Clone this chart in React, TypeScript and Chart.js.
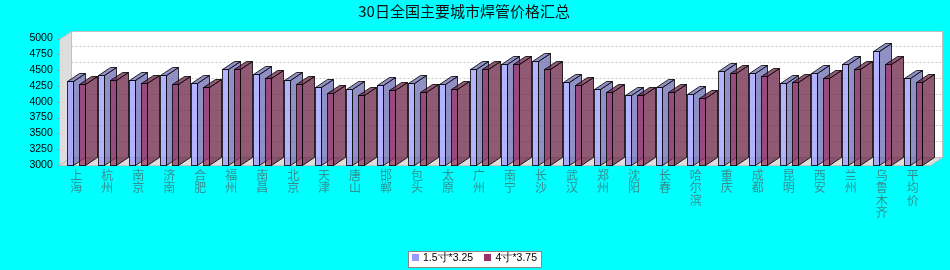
import React, { useEffect, useRef } from 'react';
import { Chart, registerables } from 'chart.js';

Chart.register(...registerables);

const TITLE = '30日全国主要城市焊管价格汇总';
const categories = ['上海', '杭州', '南京', '济南', '合肥', '福州', '南昌', '北京', '天津', '唐山', '邯郸', '包头', '太原', '广州', '南宁', '长沙', '武汉', '郑州', '沈阳', '长春', '哈尔滨', '重庆', '成都', '昆明', '西安', '兰州', '乌鲁木齐', '平均价'];
const seriesNames = ['1.5寸*3.25', '4寸*3.75'];
const series15 = [4330, 4420, 4350, 4420, 4290, 4510, 4440, 4350, 4240, 4200, 4270, 4300, 4280, 4510, 4600, 4640, 4320, 4200, 4100, 4240, 4130, 4490, 4450, 4290, 4450, 4590, 4810, 4380];
const series4 = [4280, 4350, 4300, 4280, 4240, 4510, 4380, 4280, 4140, 4100, 4190, 4150, 4200, 4510, 4600, 4510, 4270, 4160, 4100, 4160, 4060, 4450, 4400, 4320, 4380, 4510, 4600, 4320];
const yMin = 3000;
const yMax = 5000;
const yStep = 250;

const DX = 12;
const DY = 8;
const ALPHA = 0.75;
const seriesRGB = [[153, 153, 255], [153, 51, 102]];
const LABEL_FONT = '"Liberation Sans", Arial, sans-serif';
const CJK_FONT = '"Noto Sans CJK SC", sans-serif';

const rgba = (c: number[], a: number) => `rgba(${c[0]},${c[1]},${c[2]},${a})`;
const darker = (c: number[]) => c.map((v) => Math.floor(v * 0.7));

const bar3d = {
  id: 'bar3d',
  beforeDraw(chart: any) {
    const { ctx, chartArea: a, scales } = chart;
    ctx.save();
    ctx.fillStyle = '#00ffff';
    ctx.fillRect(0, 0, chart.width, chart.height);
    const L = Math.floor(a.left) - 0.5;
    const R = Math.round(a.right) + 2.5;
    const T = Math.round(a.top) + 0.5;
    const B = Math.round(a.bottom) + 0.5;
    // back wall
    ctx.fillStyle = '#ffffff';
    ctx.fillRect(L + DX, T - DY, R - L, B - T);
    // gridlines on back wall
    ctx.strokeStyle = '#c8c8c8';
    ctx.lineWidth = 1;
    ctx.setLineDash([2, 2]);
    for (let v = yMin + yStep; v < yMax; v += yStep) {
      const y = Math.round(scales.y.getPixelForValue(v)) - DY + 0.5;
      ctx.beginPath();
      ctx.moveTo(L + DX, y);
      ctx.lineTo(R + DX, y);
      ctx.stroke();
    }
    ctx.setLineDash([]);
    ctx.strokeStyle = '#c0c0c0';
    ctx.strokeRect(L + DX, T - DY, R - L, B - T);
    // left wall
    ctx.fillStyle = '#dddddd';
    ctx.beginPath();
    ctx.moveTo(L, T);
    ctx.lineTo(L + DX, T - DY);
    ctx.lineTo(L + DX, B - DY);
    ctx.lineTo(L, B);
    ctx.closePath();
    ctx.fill();
    ctx.stroke();
    // floor
    ctx.beginPath();
    ctx.moveTo(L, B);
    ctx.lineTo(L + DX, B - DY);
    ctx.lineTo(R + DX, B - DY);
    ctx.lineTo(R, B);
    ctx.closePath();
    ctx.fill();
    ctx.stroke();
    // tick marks
    ctx.strokeStyle = '#999999';
    for (let v = yMin; v <= yMax; v += yStep) {
      const y = Math.round(scales.y.getPixelForValue(v)) + 0.5;
      ctx.beginPath();
      ctx.moveTo(L - 2, y);
      ctx.lineTo(L, y);
      ctx.stroke();
    }
    ctx.restore();
  },
  beforeDatasetsDraw(chart: any) {
    const { ctx, chartArea: a } = chart;
    const metas = chart.data.datasets.map((_: any, i: number) => chart.getDatasetMeta(i));
    ctx.save();
    ctx.lineWidth = 1;
    ctx.strokeStyle = 'rgba(0,0,0,0.8)';
    for (let i = 0; i < categories.length; i++) {
      metas.forEach((meta: any, d: number) => {
        const el = meta.data[i];
        if (!el) return;
        const { x, y, base, width } = el.getProps(['x', 'y', 'base', 'width'], true);
        const x0 = Math.round(x - width / 2) + 0.5;
        const x1 = Math.round(x + width / 2) + 0.5;
        const yt = Math.round(y) + 0.5;
        const yb = Math.round(Math.min(base, a.bottom)) + 0.5;
        const c = seriesRGB[d];
        // front
        ctx.fillStyle = rgba(c, ALPHA);
        ctx.fillRect(x0, yt, x1 - x0, yb - yt);
        ctx.strokeRect(x0, yt, x1 - x0, yb - yt);
        const dc = rgba(darker(c), ALPHA);
        // side
        ctx.fillStyle = dc;
        ctx.beginPath();
        ctx.moveTo(x1, yb);
        ctx.lineTo(x1 + DX, yb - DY);
        ctx.lineTo(x1 + DX, yt - DY);
        ctx.lineTo(x1, yt);
        ctx.closePath();
        ctx.fill();
        ctx.stroke();
        // top
        ctx.beginPath();
        ctx.moveTo(x0, yt);
        ctx.lineTo(x0 + DX, yt - DY);
        ctx.lineTo(x1 + DX, yt - DY);
        ctx.lineTo(x1, yt);
        ctx.closePath();
        ctx.fill();
        ctx.stroke();
      });
    }
    ctx.restore();
    return false;
  },
  afterDraw(chart: any) {
    const { ctx } = chart;
    ctx.save();
    ctx.font = `10.5px ${LABEL_FONT}`;
    const widths = seriesNames.map((s) => ctx.measureText(s).width);
    const box = 7, gapText = 4.5, gapItem = 11, padL = 3, padR = 5;
    const total = padL + widths.reduce((s, w) => s + box + gapText + w, 0) + gapItem * (seriesNames.length - 1) + padR;
    const left = Math.round(475 - total / 2) + 0.5;
    const top = 251.5;
    const h = 16;
    ctx.fillStyle = '#ffffff';
    ctx.fillRect(left, top, Math.round(total), h);
    ctx.strokeStyle = '#888888';
    ctx.lineWidth = 1;
    ctx.strokeRect(left, top, Math.round(total), h);
    let x = left + padL;
    ctx.textBaseline = 'middle';
    ctx.textAlign = 'left';
    seriesNames.forEach((s, i) => {
      ctx.fillStyle = rgba(seriesRGB[i], 1);
      ctx.fillRect(Math.round(x), 254, box, box);
      x += box + gapText;
      ctx.fillStyle = '#000000';
      ctx.fillText(s, x, 258.5);
      x += widths[i] + gapItem;
    });
    ctx.restore();
  },
};

export default function App() {
  const ref = useRef<HTMLCanvasElement>(null);
  useEffect(() => {
    document.body.style.margin = '0';
    const chart = new Chart(ref.current as HTMLCanvasElement, {
      type: 'bar',
      data: {
        labels: categories.map((c) => Array.from(c)),
        datasets: [
          { label: seriesNames[0], data: series15, backgroundColor: rgba(seriesRGB[0], 1) },
          { label: seriesNames[1], data: series4, backgroundColor: rgba(seriesRGB[1], 1) },
        ],
      },
      options: {
        responsive: false,
        animation: false,
        devicePixelRatio: 1,
        layout: { padding: { left: 0, right: 21.8, top: 0, bottom: 0 } },
        datasets: { bar: { categoryPercentage: 24 / 30.977, barPercentage: 0.5, base: yMin } },
        plugins: {
          legend: { display: false },
          tooltip: { enabled: false },
          title: {
            display: true,
            text: TITLE,
            color: '#111111',
            font: { family: CJK_FONT, size: 15, weight: 'normal', lineHeight: 1.2 },
            padding: { top: 2.5, bottom: 18 },
          },
        },
        scales: {
          x: {
            type: 'category',
            offset: true,
            grid: { display: false, drawTicks: false },
            border: { display: false },
            ticks: {
              autoSkip: false,
              maxRotation: 0,
              minRotation: 0,
              color: '#338f8f',
              padding: 4,
              font: { family: CJK_FONT, size: 12, lineHeight: 1.04 },
            },
            afterFit: (s: any) => { s.height = 105; },
          },
          y: {
            type: 'linear',
            min: yMin,
            max: yMax,
            grid: { display: false, drawTicks: false },
            border: { display: false },
            ticks: {
              stepSize: yStep,
              color: '#000000',
              padding: 8,
              font: { family: LABEL_FONT, size: 10.5 },
              callback: (v: any) => String(v),
            },
            afterFit: (s: any) => { s.width = 60.8; },
          },
        },
      },
      plugins: [bar3d],
    } as any);
    return () => chart.destroy();
  }, []);
  return (
    <div style={{ width: 950, height: 270 }}>
      <canvas ref={ref} width={950} height={270} style={{ display: 'block' }} />
    </div>
  );
}
